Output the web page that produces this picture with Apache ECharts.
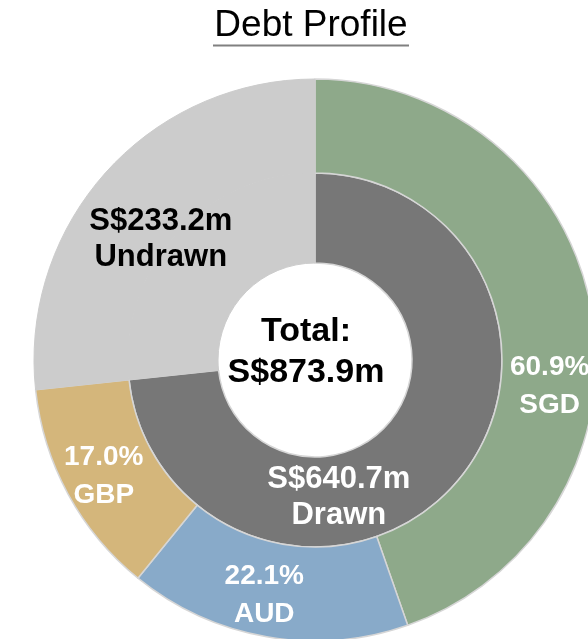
<!DOCTYPE html>
<html>
<head>
<meta charset="utf-8">
<script src="https://cdn.jsdelivr.net/npm/echarts@6/dist/echarts.min.js"></script>
<style>
  html, body { margin: 0; padding: 0; background: #fff; }
  #chart { width: 588px; height: 639px; }
</style>
</head>
<body>
<div id="chart"></div>
<script>
// debt facility amounts, S$m
const drawn = 640.7;
const undrawn = 233.2;

// split of drawn debt by currency, %
const currencies = ["SGD", "AUD", "GBP"];
const shares = [60.9, 22.1, 17.0];
const currencyColors = ["#8ea98a", "#88aac9", "#d4b67b"];

const total = drawn + undrawn;
const font = "'Liberation Sans', Arial, sans-serif";

// label nudges (px) from the default inside spot
const outerNudge = [
  { dx: 1, dy: 66 },
  { dx: -10, dy: 2 },
  { dx: -3, dy: 3 },
  { dx: 22, dy: 38 }
];
const innerNudge = [
  { dx: -84, dy: 40 },
  { dx: 0, dy: 0 }
];

const border = { borderColor: "#d6d6d6", borderWidth: 1.5 };

const outerData = currencies.map((name, i) => ({
  name,
  value: drawn * shares[i] / 100,
  itemStyle: { color: currencyColors[i], ...border },
  label: {
    formatter: `${shares[i].toFixed(1)}%\n${name}`,
    color: "#fff",
    fontSize: 28,
    lineHeight: 38
  }
}));
outerData.push({
  name: "Undrawn",
  value: undrawn,
  itemStyle: { color: "#cccccc", borderColor: "#cccccc", borderWidth: 1 },
  label: {
    formatter: `S$${undrawn.toFixed(1)}m\nUndrawn`,
    color: "#000",
    fontSize: 31,
    lineHeight: 36
  }
});

const innerData = [
  {
    name: "Drawn",
    value: drawn,
    itemStyle: { color: "#777777", ...border },
    label: {
      formatter: `S$${drawn.toFixed(1)}m\nDrawn`,
      color: "#fff",
      fontSize: 31,
      lineHeight: 36
    }
  },
  {
    name: "Undrawn",
    value: undrawn,
    itemStyle: { color: "#cccccc", borderColor: "#cccccc", borderWidth: 1 },
    label: { show: false }
  }
];

const chart = echarts.init(document.getElementById("chart"));

const option = {
  animation: false,
  backgroundColor: "#fff",
  graphic: [
    {
      type: "text",
      x: 311,
      y: 26,
      style: {
        text: "Debt Profile",
        fill: "#000",
        font: `37px ${font}`,
        align: "center",
        verticalAlign: "middle"
      }
    },
    {
      type: "line",
      shape: { x1: 213, y1: 45.5, x2: 409, y2: 45.5 },
      style: { stroke: "#808080", lineWidth: 2 }
    },
    {
      type: "text",
      x: 306,
      y: 352,
      z: 10,
      style: {
        text: `Total:\nS$${total.toFixed(1)}m`,
        fill: "#000",
        font: `bold 34px ${font}`,
        lineHeight: 41,
        align: "center",
        verticalAlign: "middle"
      }
    }
  ],
  series: [
    {
      name: "Facility",
      type: "pie",
      center: [315, 360],
      radius: [97, 187],
      startAngle: 90,
      silent: true,
      label: {
        show: true,
        position: "inside",
        fontFamily: font,
        fontWeight: "bold"
      },
      labelLine: { show: false },
      labelLayout: params => innerNudge[params.dataIndex],
      data: innerData
    },
    {
      name: "Currency",
      type: "pie",
      center: [315, 360],
      radius: [187, 281],
      startAngle: 90,
      silent: true,
      label: {
        show: true,
        position: "inside",
        fontFamily: font,
        fontWeight: "bold"
      },
      labelLine: { show: false },
      labelLayout: params => outerNudge[params.dataIndex],
      data: outerData
    }
  ]
};

chart.setOption(option);
</script>
</body>
</html>
